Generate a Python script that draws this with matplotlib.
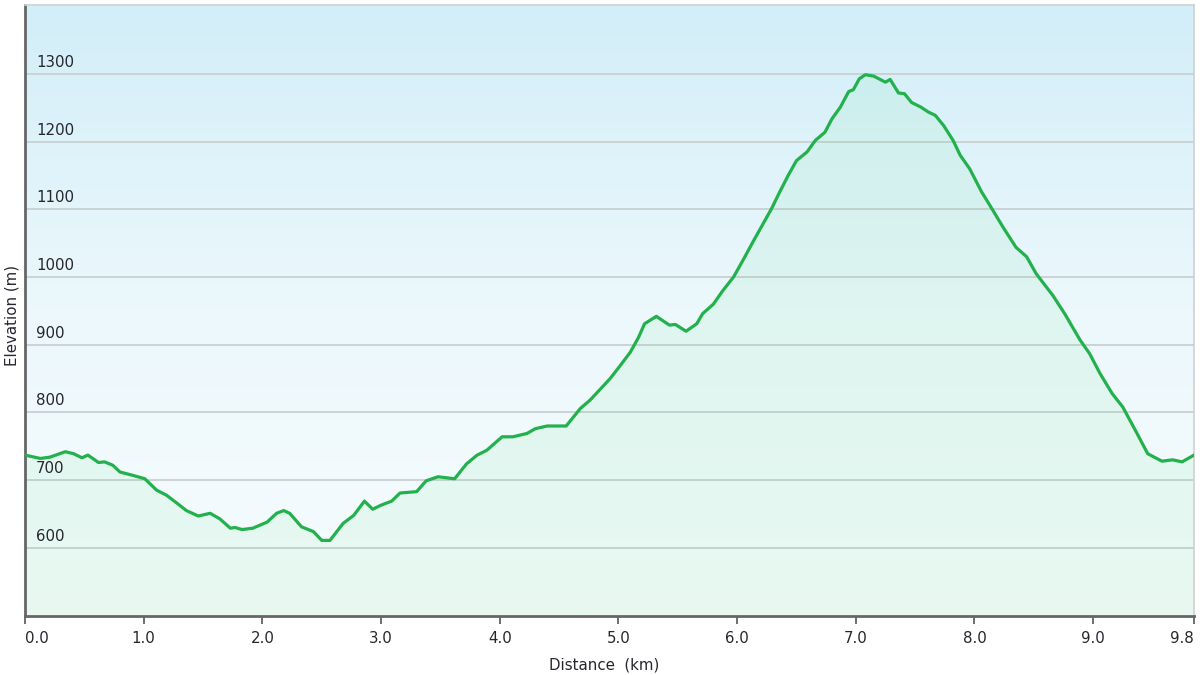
import numpy as np
import matplotlib
matplotlib.use("Agg")
import matplotlib.pyplot as plt
from matplotlib.colors import LinearSegmentedColormap
import matplotlib.transforms as mtransforms

# ---- data ----
distance_km = [0.00, 0.13, 0.21, 0.34, 0.41, 0.48, 0.53, 0.62, 0.67, 0.74, 0.80, 0.91,
               1.01, 1.11, 1.19, 1.28, 1.36, 1.46, 1.56, 1.64, 1.73, 1.77, 1.83, 1.92,
               2.04, 2.12, 2.18, 2.23, 2.33, 2.43, 2.50, 2.57, 2.68, 2.77, 2.86, 2.93,
               3.00, 3.09, 3.16, 3.30, 3.38, 3.48, 3.62, 3.72, 3.81, 3.89, 4.02, 4.11,
               4.23, 4.30, 4.40, 4.48, 4.56, 4.68, 4.76, 4.84, 4.93, 5.01, 5.10, 5.17,
               5.22, 5.32, 5.43, 5.48, 5.57, 5.66, 5.71, 5.80, 5.88, 5.97, 6.05, 6.14,
               6.22, 6.29, 6.36, 6.43, 6.50, 6.59, 6.66, 6.74, 6.80, 6.87, 6.94, 6.98,
               7.03, 7.08, 7.15, 7.25, 7.29, 7.36, 7.41, 7.47, 7.55, 7.61, 7.67, 7.74,
               7.82, 7.88, 7.96, 8.06, 8.13, 8.24, 8.35, 8.44, 8.52, 8.66, 8.76, 8.89,
               8.97, 9.06, 9.16, 9.25, 9.37, 9.46, 9.58, 9.67, 9.75, 9.85]
elevation_m = [737, 732, 734, 742, 739, 733, 737, 726, 727, 722, 712, 707,
               702, 685, 678, 666, 655, 647, 651, 643, 629, 630, 627, 629,
               638, 651, 655, 651, 631, 624, 611, 611, 636, 648, 669, 657,
               663, 669, 681, 683, 699, 705, 702, 724, 737, 744, 764, 764,
               769, 776, 780, 780, 780, 806, 818, 833, 850, 868, 889, 911,
               931, 942, 929, 930, 920, 931, 946, 960, 980, 1000, 1025, 1054,
               1079, 1101, 1126, 1150, 1172, 1185, 1202, 1214, 1234, 1251, 1274, 1277,
               1293, 1299, 1297, 1288, 1292, 1272, 1271, 1258, 1251, 1244, 1239, 1224,
               1202, 1180, 1160, 1126, 1106, 1074, 1044, 1030, 1005, 973, 946, 907,
               887, 857, 828, 808, 769, 739, 728, 730, 727, 737]
x_tick_pos = [0, 1, 2, 3, 4, 5, 6, 7, 8, 9, 9.85]
x_tick_labels = ["0.0", "1.0", "2.0", "3.0", "4.0", "5.0", "6.0", "7.0", "8.0", "9.0", "9.8"]
y_ticks = [600, 700, 800, 900, 1000, 1100, 1200, 1300]
y_tick_labels = ["600", "700", "800", "900", "1000", "1100", "1200", "1300"]
x_label = "Distance  (km)"
y_label = "Elevation (m)"

XMIN, XMAX = 0, 9.85
YMIN, YMAX = 500, 1402

plt.rcParams['font.family'] = ['DejaVu Sans']
text_color = "#26262e"
FS = 10.8

fig = plt.figure(figsize=(12, 6.75), dpi=100)
ax = fig.add_axes([25/1200, 1 - 615.5/675, (1194 - 25)/1200, (615.5 - 5)/675])

# background gradient
bg = LinearSegmentedColormap.from_list("bg", ["#f7fcfe", "#ecf8fc", "#d2eef8"])
grad = np.linspace(0, 1, 256).reshape(-1, 1)
ax.imshow(grad, cmap=bg, aspect="auto", origin="lower",
          extent=[XMIN, XMAX, YMIN, YMAX], zorder=0)

# gridlines
for yv in y_ticks:
    ax.axhline(yv, color="#c8d0d3", lw=1.3, zorder=1)

# fill and line
ax.fill_between(distance_km, elevation_m, YMIN, color="#40d868", alpha=0.075,
                lw=0, zorder=2)
ax.plot(distance_km, elevation_m, color="#22b14c", lw=2.3, zorder=3,
        solid_joinstyle="round")

ax.set_xlim(XMIN, XMAX)
ax.set_ylim(YMIN, YMAX)

# y tick labels inside the plot
ax.set_yticks([])
trans = mtransforms.blended_transform_factory(ax.transAxes, ax.transData)
for yv, lab in zip(y_ticks, y_tick_labels):
    ax.text(11/1169, yv + 6, lab, transform=trans, ha="left", va="bottom",
            fontsize=FS, color=text_color, zorder=4)

# x ticks
ax.set_xticks(x_tick_pos)
ax.set_xticklabels(x_tick_labels, fontsize=FS, color=text_color)
ax.tick_params(axis="x", direction="out", length=6, width=1.2, color="#555555", pad=5)
labels = ax.get_xticklabels()
labels[0].set_ha("left")
labels[-1].set_ha("right")

# spines
ax.spines["left"].set_color("#666666")
ax.spines["left"].set_linewidth(2)
ax.spines["bottom"].set_color("#666666")
ax.spines["bottom"].set_linewidth(2)
ax.spines["top"].set_color("#d0d0d0")
ax.spines["top"].set_linewidth(1.2)
ax.spines["right"].set_color("#d0d0d0")
ax.spines["right"].set_linewidth(1.2)

fig.text(604/1200, 1 - 665/675, x_label, ha="center", va="center",
         fontsize=FS, color=text_color)
fig.text(12/1200, 1 - 315/675, y_label, ha="center", va="center",
         rotation=90, fontsize=FS, color=text_color)

fig.savefig("out.png", dpi=100, facecolor="white")
